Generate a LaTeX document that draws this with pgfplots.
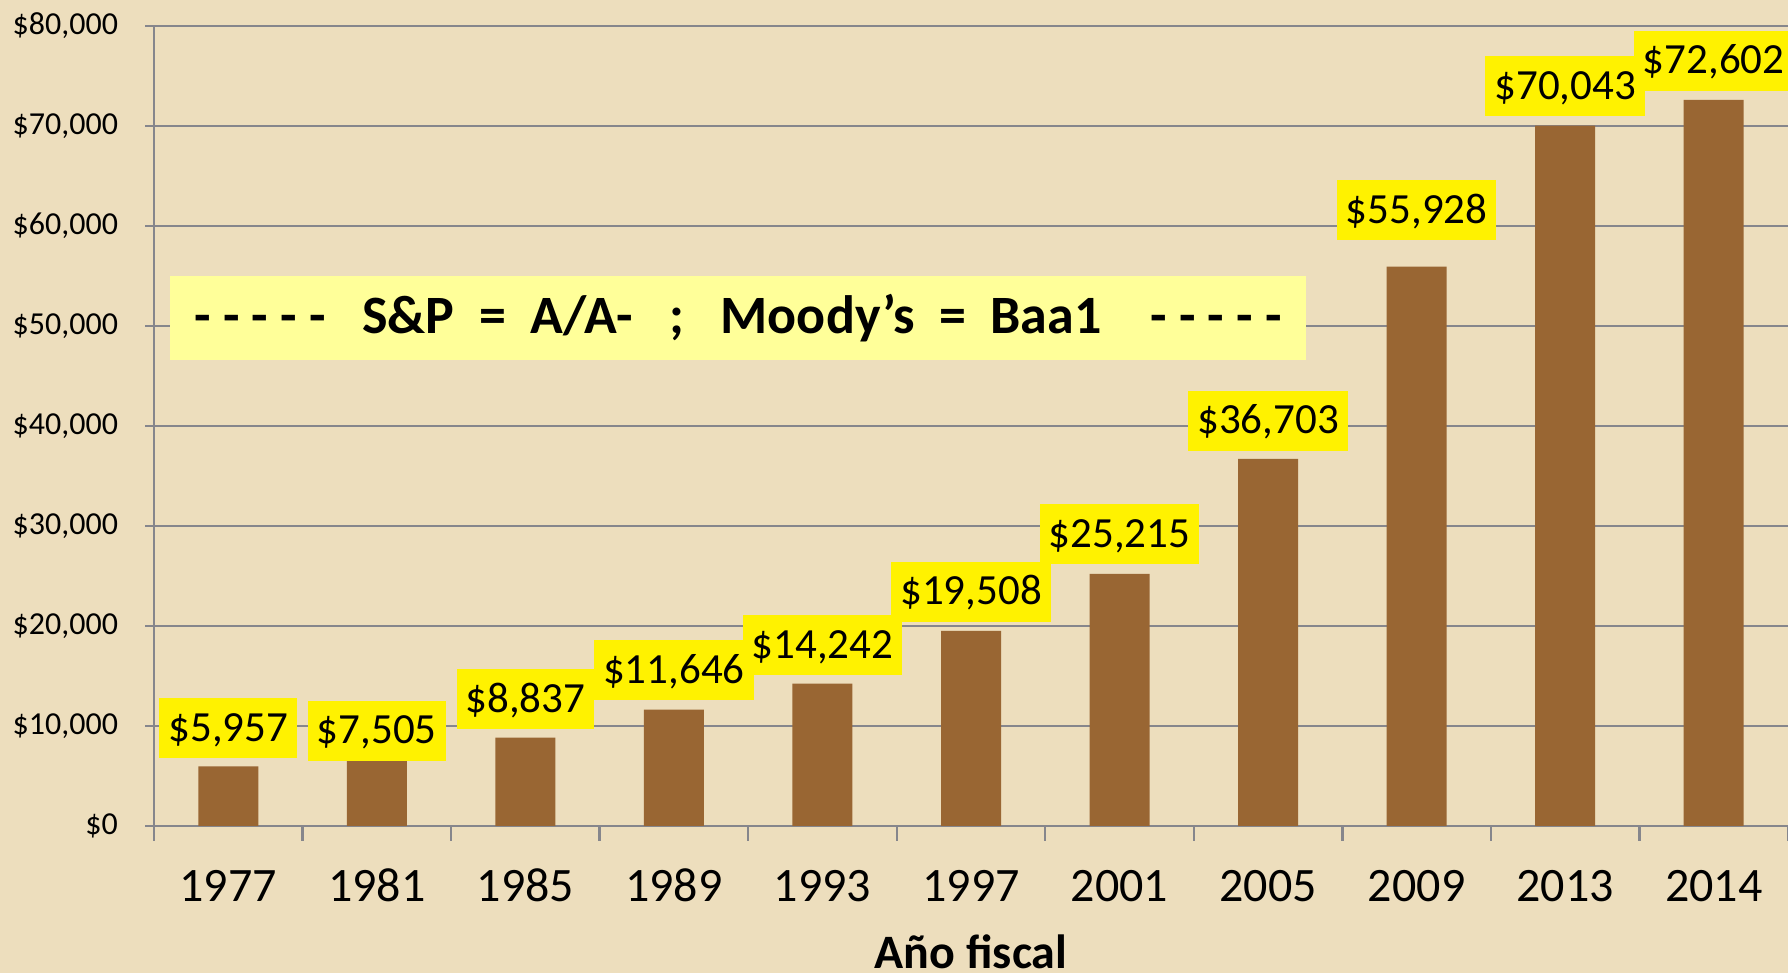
\documentclass[border=0pt]{standalone}
\usepackage{fontspec}
\setmainfont{Carlito}
\usepackage{pgfplots}
\usepackage{pgfplotstable}
\pgfplotsset{compat=1.18}
\definecolor{parch}{RGB}{237,222,189}
\definecolor{barbrown}{RGB}{153,102,51}
\definecolor{gridgray}{RGB}{134,134,140}
\definecolor{banner}{RGB}{255,255,153}
% x = category index, y = value, dy = gap of the label above the bar (pt)
\pgfplotstableread{
x y dy
0 5957 4
1 7505 -5
2 8837 4
3 11646 4.5
4 14242 4
5 19508 4.5
6 25215 4.5
7 36703 4
8 55928 13
9 70043 4.5
10 72602 4.5
}\deuda
\begin{document}
\begin{tikzpicture}
\path[use as bounding box] (-77pt,-73.5pt) rectangle (817pt,413pt);
\clip (-77pt,-73.5pt) rectangle (817pt,413pt);
\fill[parch] (-77pt,-73.5pt) rectangle (817pt,413pt);
\begin{axis}[
  scale only axis, width=817pt, height=400pt,
  at={(0,0)}, anchor=south west,
  xmin=-0.5, xmax=10.5, ymin=0, ymax=80000,
  ybar, bar width=30pt, bar shift=0pt,
  axis lines*=left,
  axis line style={gridgray, line width=1.2pt},
  tick align=outside,
  xtick={0,...,10},
  xticklabels={1977,1981,1985,1989,1993,1997,2001,2005,2009,2013,2014},
  minor xtick={-0.5,0.5,...,10.5},
  major x tick style={draw=none},
  minor x tick style={gridgray, line width=1.2pt},
  minor tick length=7.5pt,
  ytick={0,10000,...,80000},
  major y tick style={gridgray, line width=1.2pt},
  major tick length=4.5pt,
  ymajorgrids=true,
  major grid style={gridgray, line width=1pt},
  scaled y ticks=false,
  /pgf/number format/assume math mode=true,
  yticklabel={\$\pgfmathprintnumber[fixed,precision=0,1000 sep={,}]{\tick}},
  yticklabel style={font=\fontsize{16}{16}\selectfont, anchor=east, xshift=-10pt},
  xticklabel style={font=\fontsize{24}{24}\selectfont, anchor=base, yshift=-33.5pt},
  xlabel={Año fiscal},
  xlabel style={font=\fontsize{24}{24}\selectfont\bfseries,
    at={(axis description cs:0.5,0)}, anchor=base, yshift=-71pt},
  visualization depends on={\thisrow{dy} \as \labeldy},
  nodes near coords={\$\pgfmathprintnumber[fixed,precision=0,1000 sep={,}]{\pgfplotspointmeta}},
  every node near coord/.append style={fill=yellow, text=black,
    font=\fontsize{21.5}{21.5}\selectfont, inner xsep=4.5pt, inner ysep=0pt,
    text height=13.4pt, text depth=0pt, minimum height=30pt,
    anchor=south, yshift=\labeldy pt},
]
\addplot[fill=barbrown, draw=none] table[x=x, y=y] {\deuda};
\end{axis}
\node[fill=banner, minimum width=568pt, minimum height=42pt,
  font=\fontsize{27}{27}\selectfont\bfseries] at (292pt,254pt)
  {- - - - -~~~S\&P~~=~~A/A-~~~;~~~Moody’s~~=~~Baa1~~~~- - - - -};
\end{tikzpicture}
\end{document}
